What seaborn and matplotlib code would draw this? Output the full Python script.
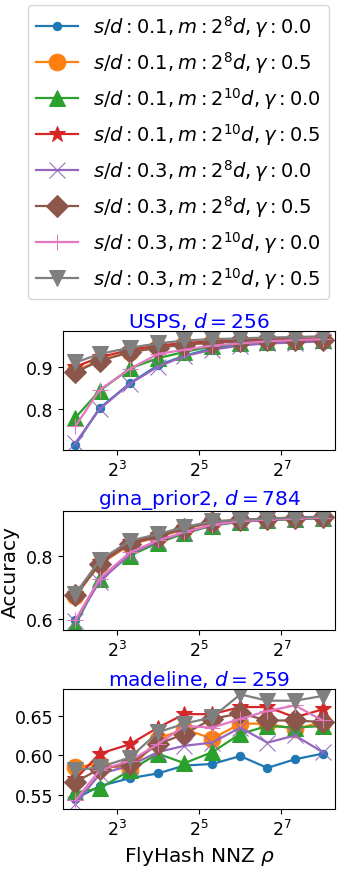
import numpy as np
import pandas as pd
import matplotlib.pyplot as plt
import matplotlib.ticker as mticker
import seaborn as sns

# nnz values on the x axis
nnz = [4, 6, 10, 16, 25, 40, 64, 101, 161, 256]

labels = [r"$s/d: 0.1, m: 2^{8} d, \gamma: 0.0$",
          r"$s/d: 0.1, m: 2^{8} d, \gamma: 0.5$",
          r"$s/d: 0.1, m: 2^{10} d, \gamma: 0.0$",
          r"$s/d: 0.1, m: 2^{10} d, \gamma: 0.5$",
          r"$s/d: 0.3, m: 2^{8} d, \gamma: 0.0$",
          r"$s/d: 0.3, m: 2^{8} d, \gamma: 0.5$",
          r"$s/d: 0.3, m: 2^{10} d, \gamma: 0.0$",
          r"$s/d: 0.3, m: 2^{10} d, \gamma: 0.5$"]

titles = [r"USPS, $d = 256$", r"gina_prior2, $d = 784$", r"madeline, $d = 259$"]

usps = [
    [0.716, 0.802, 0.861, 0.903, 0.926, 0.943, 0.954, 0.958, 0.960, 0.962],
    [0.890, 0.915, 0.935, 0.946, 0.953, 0.958, 0.961, 0.962, 0.963, 0.964],
    [0.780, 0.843, 0.896, 0.920, 0.935, 0.948, 0.955, 0.958, 0.960, 0.962],
    [0.900, 0.922, 0.940, 0.950, 0.956, 0.960, 0.963, 0.965, 0.966, 0.967],
    [0.720, 0.800, 0.860, 0.900, 0.925, 0.940, 0.950, 0.955, 0.957, 0.960],
    [0.887, 0.914, 0.934, 0.945, 0.952, 0.957, 0.960, 0.962, 0.963, 0.963],
    [0.760, 0.845, 0.895, 0.930, 0.940, 0.950, 0.955, 0.960, 0.963, 0.965],
    [0.910, 0.930, 0.945, 0.955, 0.962, 0.965, 0.967, 0.969, 0.970, 0.972],
]

gina = [
    [0.595, 0.722, 0.805, 0.845, 0.872, 0.896, 0.908, 0.913, 0.916, 0.919],
    [0.672, 0.772, 0.835, 0.858, 0.884, 0.905, 0.912, 0.916, 0.919, 0.921],
    [0.582, 0.727, 0.800, 0.840, 0.870, 0.895, 0.907, 0.912, 0.915, 0.918],
    [0.678, 0.780, 0.842, 0.864, 0.888, 0.907, 0.913, 0.917, 0.920, 0.922],
    [0.593, 0.718, 0.805, 0.845, 0.872, 0.897, 0.908, 0.913, 0.916, 0.919],
    [0.674, 0.774, 0.837, 0.860, 0.885, 0.906, 0.912, 0.916, 0.919, 0.921],
    [0.597, 0.727, 0.810, 0.848, 0.874, 0.898, 0.909, 0.914, 0.917, 0.920],
    [0.680, 0.785, 0.847, 0.868, 0.890, 0.908, 0.913, 0.917, 0.920, 0.923],
]

madeline = [
    [0.545, 0.561, 0.571, 0.577, 0.587, 0.589, 0.599, 0.584, 0.595, 0.602],
    [0.585, 0.589, 0.581, 0.621, 0.633, 0.621, 0.640, 0.640, 0.633, 0.642],
    [0.553, 0.558, 0.581, 0.602, 0.590, 0.604, 0.627, 0.637, 0.635, 0.637],
    [0.570, 0.602, 0.614, 0.635, 0.652, 0.652, 0.661, 0.661, 0.648, 0.658],
    [0.539, 0.576, 0.587, 0.604, 0.612, 0.616, 0.635, 0.616, 0.625, 0.604],
    [0.566, 0.583, 0.589, 0.614, 0.627, 0.646, 0.653, 0.644, 0.644, 0.642],
    [0.543, 0.581, 0.593, 0.614, 0.637, 0.635, 0.646, 0.656, 0.663, 0.644],
    [0.581, 0.585, 0.597, 0.629, 0.640, 0.648, 0.677, 0.669, 0.669, 0.675],
]

datasets = [usps, gina, madeline]
yticks = [[0.8, 0.9], [0.6, 0.8], [0.55, 0.60, 0.65]]

markers = ["o", "o", "^", "*", "x", "D", "+", "v"]
msizes = [6, 12, 12, 12, 12, 11, 12, 12]
colors = sns.color_palette("tab10", 8)

fig = plt.figure(figsize=(3.45, 8.70), dpi=100)
boxes = [[0.183, 0.4816, 0.788, 0.137],
         [0.183, 0.2747, 0.788, 0.1365],
         [0.183, 0.069, 0.788, 0.138]]

axes = []
for k, vals in enumerate(datasets):
    ax = fig.add_axes(boxes[k])
    for i, lab in enumerate(labels):
        df = pd.DataFrame({"nnz": nnz, "acc": vals[i]})
        sns.lineplot(data=df, x="nnz", y="acc", ax=ax, color=colors[i],
                     marker=markers[i], markersize=msizes[i], label=lab,
                     linewidth=1.6, markeredgecolor=colors[i])
    ax.set_xscale("log", base=2)
    ax.set_xticks([8, 32, 128])
    ax.xaxis.set_major_formatter(mticker.LogFormatterSciNotation(base=2))
    ax.xaxis.set_minor_locator(mticker.NullLocator())
    ax.set_yticks(yticks[k])
    ax.tick_params(labelsize=12.5)
    ax.set_title(titles[k], color="blue", fontsize=14.5, pad=3)
    ax.set_xlabel("")
    ax.set_ylabel("")
    ax.get_legend().remove()
    axes.append(ax)

axes[1].set_ylabel("Accuracy", fontsize=14.5)
axes[2].set_xlabel(r"FlyHash NNZ $\rho$", fontsize=14.5)

handles, labs = axes[0].get_legend_handles_labels()
fig.legend(handles, labs, loc="upper left", bbox_to_anchor=(28 / 345, 1 - 6 / 870),
           borderaxespad=0, fontsize=14, borderpad=0.4, labelspacing=0.52,
           handlelength=2.15, handletextpad=0.8)

fig.savefig("out.png", dpi=100)
